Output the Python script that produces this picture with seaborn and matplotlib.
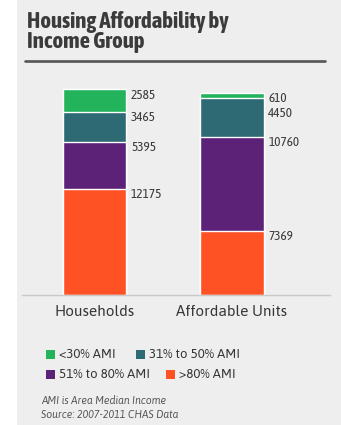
import matplotlib
matplotlib.use("Agg")
import matplotlib.pyplot as plt
from matplotlib.patches import Rectangle
from matplotlib.lines import Line2D
import pandas as pd
import seaborn as sns

# Units by income band (AMI = Area Median Income)
groups = ["Households", "Affordable Units"]
categories = ["<30% AMI", "31% to 50% AMI", "51% to 80% AMI", ">80% AMI"]
under_30 = [2585, 610]
from_31_to_50 = [3465, 4450]
from_51_to_80 = [5395, 10760]
over_80 = [12175, 7369]
band_colors = ["#22b35b", "#2e6a73", "#5c2278", "#ff5224"]

title = "Housing Affordability by\nIncome Group"
notes = ["AMI is Area Median Income", "Source: 2007-2011 CHAS Data"]

W, H = 341, 425
COND = ["Asap Condensed", "DejaVu Sans"]
WIDE = ["Asap", "DejaVu Sans"]
TEXT = "#363636"

sns.set_theme(style="white")
plt.rcParams["font.family"] = COND

df = pd.DataFrame({"group": groups,
                   categories[0]: under_30,
                   categories[1]: from_31_to_50,
                   categories[2]: from_51_to_80,
                   categories[3]: over_80})
palette = dict(zip(categories, band_colors))
stack = categories[::-1]            # bottom to top
cum = df[stack].cumsum(axis=1)

fig = plt.figure(figsize=(W / 100, H / 100), dpi=100, facecolor="white")
fig.add_artist(Rectangle((17 / W, 0), 1 - 17 / W, 1, transform=fig.transFigure,
                         facecolor="#eeeeee", edgecolor="none", zorder=-10))

def px(x, y):
    return x / W, 1 - y / H

ax_left, ax_right, ax_base = 22, 330, 295
ymax = 25000
ax_h = 218
ax = fig.add_axes([ax_left / W, 1 - ax_base / H, (ax_right - ax_left) / W, ax_h / H])
ax.set_facecolor("none")

bar_w = 0.46
for cat in reversed(stack):
    sns.barplot(x=df["group"], y=cum[cat], color=palette[cat], width=bar_w,
                saturation=1, edgecolor="white", linewidth=1.0, ax=ax)

ax.set_ylim(0, ymax)
ax.set_xlim(-0.527, 1.713)
ax.set_xlabel("")
ax.set_ylabel("")
ax.set_yticks([])
for s in ["left", "right", "top"]:
    ax.spines[s].set_visible(False)
ax.spines["bottom"].set_color("#c9c9c9")
ax.spines["bottom"].set_linewidth(1.0)
ax.tick_params(axis="x", length=0, pad=7)
ax.set_xticks(range(len(groups)))
ax.set_xticklabels(groups, fontsize=11, color=TEXT, family=WIDE)

# value labels at the top of each segment, nudged down so they never overlap
unit_px = ax_h / ymax
gap = 15 / unit_px
drop = 6 / unit_px
for i in range(len(groups)):
    prev = None
    for cat in reversed(stack):
        top = cum.loc[i, cat]
        val = df.loc[i, cat]
        y = top - drop
        if prev is not None and prev - y < gap:
            y = prev - gap
        prev = y
        ax.annotate(f"{val}", xy=(i + bar_w / 2, y), xytext=(3.5, 0),
                    textcoords="offset points", va="center", ha="left",
                    fontsize=9.5, color="#3c3c3c")

# title and rule
fig.text(*px(27, 32), title, fontsize=16.5, fontweight="bold", color="#3b3b3b",
         va="center", ha="left", linespacing=0.93, family=COND)
fig.add_artist(Line2D([25 / W, 325 / W], [1 - 61 / H] * 2, transform=fig.transFigure,
                      color="#555555", linewidth=1.9))

# legend
legend_layout = [(46, 354), (136, 354), (46, 374), (166, 374)]
sq = 9
for cat, (lx, ly) in zip(categories, legend_layout):
    fig.add_artist(Rectangle(px(lx, ly + sq / 2), sq / W, sq / H, transform=fig.transFigure,
                             facecolor=palette[cat], edgecolor="none"))
    fig.text(*px(lx + sq + 4, ly), cat, fontsize=9.5, color=TEXT, va="center", ha="left",
             family=WIDE)

# footnote
for k, line in enumerate(notes):
    fig.text(*px(41, 400 + 15 * k), line, fontsize=7.5, style="italic",
             color="#555555", va="center", ha="left", family=WIDE)

fig.savefig("out.png", dpi=100, facecolor=fig.get_facecolor())
